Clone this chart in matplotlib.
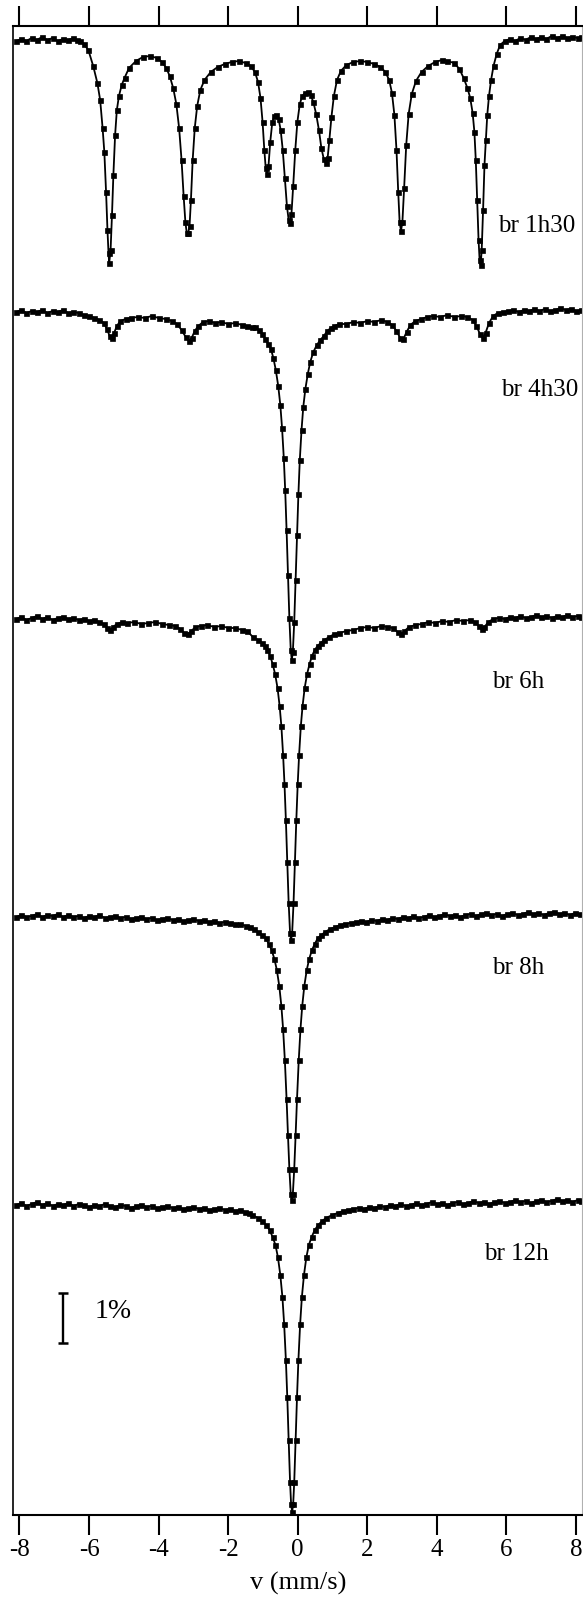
import matplotlib
matplotlib.use("Agg")
import matplotlib.pyplot as plt

# Mössbauer spectra of ball-milled samples (relative transmission, %)
labels = ["br 1h30", "br 4h30", "br 6h", "br 8h", "br 12h"]

vel_1h30 = [-8.1, -7.95, -7.8, -7.65, -7.5, -7.35, -7.2, -7.05, -6.9, -6.75, -6.6, -6.45, -6.35, -6.25, -6.15,
            -6.02, -5.88, -5.76, -5.68, -5.61, -5.56, -5.51, -5.47, -5.44, -5.42, -5.38, -5.34, -5.30, -5.25,
            -5.20, -5.14, -5.06, -4.98, -4.85, -4.65, -4.45, -4.25, -4.05, -3.9, -3.78, -3.68, -3.58, -3.49,
            -3.41, -3.34, -3.28, -3.23, -3.19, -3.15, -3.11, -3.07, -3.02, -2.96, -2.89, -2.8, -2.68, -2.5,
            -2.3, -2.1, -1.9, -1.7, -1.5, -1.35, -1.23, -1.14, -1.07, -1.01, -0.96, -0.92, -0.88, -0.84, -0.79,
            -0.73, -0.67, -0.61, -0.55, -0.49, -0.43, -0.37, -0.31, -0.26, -0.22, -0.18, -0.13, -0.07, -0.01,
            0.06, 0.13, 0.21, 0.29, 0.37, 0.45, 0.53, 0.61, 0.68, 0.75, 0.81, 0.86, 0.91, 0.97, 1.04, 1.13,
            1.24, 1.4, 1.6, 1.8, 2.0, 2.2, 2.38, 2.52, 2.63, 2.71, 2.78, 2.84, 2.89, 2.93, 2.97, 3.01, 3.06,
            3.12, 3.19, 3.28, 3.4, 3.56, 3.75, 3.95, 4.15, 4.3, 4.5, 4.65, 4.77, 4.88, 4.96, 5.03, 5.08, 5.12,
            5.16, 5.20, 5.23, 5.26, 5.29, 5.33, 5.37, 5.41, 5.45, 5.50, 5.56, 5.63, 5.72, 5.82, 5.95, 6.1,
            6.25, 6.4, 6.55, 6.7, 6.85, 7.0, 7.15, 7.3, 7.45, 7.6, 7.75, 7.9, 8.05, 8.15]
trans_1h30 = [99.98, 100.02, 99.98, 100.04, 100.00, 100.06, 100.00, 100.04, 99.98, 100.02, 100.00, 100.04,
              100.00, 99.98, 99.92, 99.80, 99.48, 99.14, 98.80, 98.24, 97.76, 96.96, 96.20, 95.74, 95.54,
              95.80, 96.50, 97.30, 98.10, 98.60, 98.88, 99.10, 99.24, 99.44, 99.58, 99.66, 99.68, 99.64,
              99.56, 99.44, 99.28, 99.04, 98.72, 98.24, 97.60, 96.88, 96.36, 96.14, 96.14, 96.28, 96.80,
              97.60, 98.24, 98.68, 99.00, 99.20, 99.36, 99.46, 99.52, 99.56, 99.58, 99.54, 99.48, 99.36,
              99.16, 98.84, 98.36, 97.80, 97.44, 97.32, 97.48, 97.96, 98.36, 98.48, 98.50, 98.42, 98.20,
              97.80, 97.24, 96.68, 96.40, 96.34, 96.52, 97.08, 97.80, 98.36, 98.72, 98.88, 98.94, 98.96,
              98.90, 98.76, 98.52, 98.20, 97.84, 97.62, 97.54, 97.64, 98.00, 98.46, 98.88, 99.20, 99.38,
              99.50, 99.56, 99.58, 99.56, 99.52, 99.46, 99.36, 99.20, 98.94, 98.50, 97.80, 96.96, 96.36,
              96.18, 96.36, 97.04, 97.90, 98.52, 98.92, 99.18, 99.36, 99.48, 99.56, 99.60, 99.58, 99.54,
              99.42, 99.24, 99.04, 98.84, 98.54, 98.16, 97.60, 96.80, 96.00, 95.60, 95.50, 95.80, 96.60,
              97.50, 98.00, 98.50, 98.88, 99.20, 99.48, 99.72, 99.90, 99.98, 100.02, 99.98, 100.04, 100.00,
              100.06, 100.02, 100.06, 100.02, 100.08, 100.04, 100.08, 100.04, 100.06, 100.04, 100.06]

vel_4h30 = [-8.1, -7.95, -7.8, -7.65, -7.5, -7.35, -7.2, -7.05, -6.9, -6.75, -6.6, -6.45, -6.3, -6.15, -6.0,
            -5.85, -5.7, -5.58, -5.48, -5.41, -5.35, -5.28, -5.2, -5.1, -4.95, -4.8, -4.6, -4.4, -4.2, -4.0,
            -3.8, -3.62, -3.47, -3.34, -3.22, -3.13, -3.05, -2.96, -2.86, -2.72, -2.55, -2.38, -2.2, -2.0,
            -1.8, -1.6, -1.45, -1.32, -1.22, -1.12, -1.02, -0.93, -0.85, -0.77, -0.70, -0.63, -0.56, -0.50,
            -0.45, -0.40, -0.36, -0.32, -0.28, -0.24, -0.20, -0.17, -0.14, -0.10, -0.06, -0.02, 0.02, 0.06,
            0.11, 0.16, 0.22, 0.29, 0.36, 0.45, 0.55, 0.65, 0.75, 0.85, 0.95, 1.05, 1.2, 1.4, 1.6, 1.8, 2.0,
            2.2, 2.4, 2.57, 2.72, 2.84, 2.95, 3.04, 3.13, 3.24, 3.38, 3.55, 3.72, 3.9, 4.1, 4.3, 4.5, 4.7,
            4.88, 5.03, 5.14, 5.24, 5.32, 5.40, 5.5, 5.62, 5.75, 5.9, 6.05, 6.2, 6.35, 6.5, 6.65, 6.8, 6.95,
            7.1, 7.25, 7.4, 7.55, 7.7, 7.85, 8.0, 8.15]
trans_4h30 = [99.98, 100.02, 99.96, 100.00, 99.98, 100.02, 99.96, 100.00, 99.98, 100.02, 99.96, 99.98, 99.96,
              99.92, 99.90, 99.86, 99.82, 99.76, 99.64, 99.50, 99.46, 99.56, 99.70, 99.80, 99.84, 99.86,
              99.88, 99.86, 99.90, 99.86, 99.84, 99.80, 99.74, 99.62, 99.48, 99.40, 99.46, 99.60, 99.70,
              99.78, 99.80, 99.76, 99.78, 99.74, 99.76, 99.72, 99.70, 99.68, 99.68, 99.62, 99.54, 99.44,
              99.34, 99.24, 99.06, 98.82, 98.50, 98.12, 97.66, 97.06, 96.42, 95.62, 94.72, 93.86, 93.22,
              93.02, 93.18, 93.78, 94.62, 95.52, 96.34, 97.02, 97.62, 98.08, 98.44, 98.74, 98.98, 99.18,
              99.32, 99.42, 99.50, 99.60, 99.66, 99.70, 99.74, 99.74, 99.78, 99.76, 99.80, 99.78, 99.82,
              99.78, 99.72, 99.60, 99.46, 99.44, 99.58, 99.72, 99.80, 99.84, 99.88, 99.90, 99.88, 99.92,
              99.88, 99.90, 99.88, 99.82, 99.70, 99.54, 99.46, 99.56, 99.76, 99.90, 99.96, 99.98, 100.00,
              100.02, 99.98, 100.02, 100.00, 100.04, 100.00, 100.04, 100.00, 100.02, 100.06, 100.02, 100.04,
              100.00, 100.02]

vel_6h = [-8.1, -7.95, -7.8, -7.65, -7.5, -7.35, -7.2, -7.05, -6.9, -6.75, -6.6, -6.45, -6.3, -6.15, -6.0,
          -5.85, -5.7, -5.58, -5.47, -5.39, -5.31, -5.2, -5.05, -4.9, -4.7, -4.5, -4.3, -4.1, -3.9, -3.7,
          -3.52, -3.38, -3.26, -3.16, -3.06, -2.94, -2.78, -2.6, -2.4, -2.2, -2.0, -1.8, -1.6, -1.45, -1.29,
          -1.14, -1.04, -0.95, -0.87, -0.79, -0.72, -0.65, -0.58, -0.52, -0.47, -0.42, -0.38, -0.34, -0.30,
          -0.26, -0.22, -0.19, -0.16, -0.12, -0.08, -0.04, 0.00, 0.04, 0.09, 0.14, 0.20, 0.27, 0.34, 0.41,
          0.49, 0.57, 0.66, 0.76, 0.91, 1.05, 1.2, 1.4, 1.6, 1.8, 2.0, 2.2, 2.4, 2.58, 2.74, 2.87, 2.97,
          3.07, 3.2, 3.38, 3.56, 3.75, 3.95, 4.15, 4.35, 4.55, 4.75, 4.95, 5.1, 5.2, 5.29, 5.37, 5.48, 5.62,
          5.78, 5.95, 6.1, 6.25, 6.4, 6.55, 6.7, 6.85, 7.0, 7.15, 7.3, 7.45, 7.6, 7.75, 7.9, 8.05, 8.15]
trans_6h = [99.98, 100.02, 99.96, 100.00, 100.04, 99.98, 100.02, 99.96, 100.00, 100.02, 99.98, 100.00, 99.96,
            99.98, 99.94, 99.96, 99.92, 99.88, 99.80, 99.76, 99.82, 99.88, 99.92, 99.90, 99.92, 99.88, 99.90,
            99.92, 99.88, 99.86, 99.84, 99.78, 99.70, 99.68, 99.74, 99.82, 99.84, 99.86, 99.82, 99.84, 99.80,
            99.80, 99.76, 99.74, 99.62, 99.56, 99.50, 99.44, 99.36, 99.24, 99.08, 98.88, 98.60, 98.24, 97.84,
            97.26, 96.68, 95.96, 95.12, 94.30, 93.70, 93.56, 93.70, 94.30, 95.12, 95.96, 96.68, 97.26, 97.84,
            98.24, 98.60, 98.88, 99.08, 99.24, 99.36, 99.44, 99.50, 99.56, 99.62, 99.68, 99.70, 99.74, 99.76,
            99.80, 99.82, 99.80, 99.84, 99.82, 99.80, 99.72, 99.68, 99.74, 99.82, 99.86, 99.88, 99.92, 99.90,
            99.94, 99.92, 99.96, 99.94, 99.96, 99.92, 99.84, 99.78, 99.82, 99.92, 99.98, 100.00, 99.98,
            100.02, 100.00, 100.04, 100.00, 100.02, 100.06, 100.02, 100.04, 100.00, 100.04, 100.02, 100.06,
            100.02, 100.04, 100.02]

vel_8h = [-8.1, -7.95, -7.8, -7.65, -7.5, -7.35, -7.2, -7.05, -6.9, -6.75, -6.6, -6.45, -6.3, -6.15, -6.0,
          -5.85, -5.7, -5.55, -5.4, -5.25, -5.1, -4.95, -4.8, -4.65, -4.5, -4.35, -4.2, -4.05, -3.9, -3.75,
          -3.6, -3.45, -3.3, -3.15, -3.0, -2.85, -2.7, -2.55, -2.4, -2.25, -2.1, -1.95, -1.8, -1.65, -1.5,
          -1.38, -1.27, -1.13, -1.02, -0.92, -0.83, -0.75, -0.67, -0.60, -0.53, -0.47, -0.42, -0.37, -0.32,
          -0.28, -0.24, -0.20, -0.17, -0.14, -0.10, -0.06, -0.02, 0.03, 0.08, 0.13, 0.19, 0.26, 0.33, 0.41,
          0.49, 0.58, 0.68, 0.79, 0.93, 1.08, 1.22, 1.37, 1.52, 1.67, 1.82, 1.97, 2.12, 2.27, 2.42, 2.57,
          2.72, 2.87, 3.02, 3.17, 3.32, 3.47, 3.62, 3.77, 3.92, 4.07, 4.22, 4.37, 4.52, 4.67, 4.82, 4.97,
          5.12, 5.27, 5.42, 5.57, 5.72, 5.87, 6.02, 6.17, 6.32, 6.47, 6.62, 6.77, 6.92, 7.07, 7.22, 7.37,
          7.52, 7.67, 7.82, 7.97, 8.12]
trans_8h = [99.98, 100.02, 99.98, 100.00, 100.04, 99.98, 100.02, 100.00, 100.04, 99.98, 100.02, 99.98, 100.00,
            99.96, 100.00, 99.98, 100.02, 99.96, 99.98, 100.00, 99.96, 99.98, 99.94, 99.96, 99.98, 99.94,
            99.96, 99.92, 99.94, 99.96, 99.92, 99.94, 99.90, 99.92, 99.94, 99.90, 99.92, 99.88, 99.90, 99.86,
            99.88, 99.86, 99.84, 99.84, 99.80, 99.78, 99.74, 99.68, 99.62, 99.56, 99.44, 99.32, 99.14, 98.92,
            98.60, 98.20, 97.74, 97.12, 96.34, 95.62, 94.94, 94.44, 94.32, 94.44, 94.94, 95.62, 96.34, 97.12,
            97.74, 98.20, 98.60, 98.92, 99.14, 99.32, 99.44, 99.56, 99.62, 99.68, 99.74, 99.78, 99.82, 99.84,
            99.86, 99.88, 99.90, 99.88, 99.92, 99.90, 99.94, 99.92, 99.96, 99.94, 99.98, 99.96, 100.00, 99.96,
            99.98, 100.02, 99.98, 100.00, 100.04, 100.00, 100.02, 99.98, 100.02, 100.04, 100.00, 100.04,
            100.06, 100.02, 100.04, 100.00, 100.04, 100.06, 100.02, 100.04, 100.08, 100.04, 100.06, 100.02,
            100.06, 100.08, 100.04, 100.06, 100.02, 100.06, 100.04]

vel_12h = [-8.1, -7.95, -7.8, -7.65, -7.5, -7.35, -7.2, -7.05, -6.9, -6.75, -6.6, -6.45, -6.3, -6.15, -6.0,
           -5.85, -5.7, -5.55, -5.4, -5.25, -5.1, -4.95, -4.8, -4.65, -4.5, -4.35, -4.2, -4.05, -3.9, -3.75,
           -3.6, -3.45, -3.3, -3.15, -3.0, -2.85, -2.7, -2.55, -2.4, -2.25, -2.1, -1.95, -1.8, -1.65, -1.52,
           -1.4, -1.31, -1.14, -1.02, -0.91, -0.81, -0.72, -0.64, -0.57, -0.50, -0.44, -0.39, -0.34, -0.30,
           -0.26, -0.22, -0.19, -0.16, -0.13, -0.10, -0.06, -0.02, 0.02, 0.07, 0.12, 0.18, 0.25, 0.32, 0.40,
           0.49, 0.59, 0.70, 0.82, 0.99, 1.15, 1.3, 1.45, 1.6, 1.75, 1.9, 2.05, 2.2, 2.35, 2.5, 2.65, 2.8,
           2.95, 3.1, 3.25, 3.4, 3.55, 3.7, 3.85, 4.0, 4.15, 4.3, 4.45, 4.6, 4.75, 4.9, 5.05, 5.2, 5.35, 5.5,
           5.65, 5.8, 5.95, 6.1, 6.25, 6.4, 6.55, 6.7, 6.85, 7.0, 7.15, 7.3, 7.45, 7.6, 7.75, 7.9, 8.05, 8.15]
trans_12h = [99.98, 100.02, 99.96, 100.00, 100.04, 99.98, 100.02, 99.96, 100.00, 99.98, 100.02, 99.96, 100.00,
             99.98, 99.94, 99.98, 99.96, 100.00, 99.96, 99.94, 99.98, 99.96, 99.92, 99.96, 99.98, 99.94, 99.96,
             99.92, 99.94, 99.96, 99.92, 99.94, 99.90, 99.92, 99.94, 99.90, 99.92, 99.88, 99.90, 99.92, 99.88,
             99.90, 99.86, 99.88, 99.84, 99.82, 99.78, 99.72, 99.66, 99.58, 99.48, 99.34, 99.18, 98.94, 98.58,
             98.14, 97.60, 96.88, 96.14, 95.28, 94.44, 94.00, 93.84, 94.00, 94.44, 95.28, 96.14, 96.88, 97.60,
             98.14, 98.58, 98.94, 99.18, 99.34, 99.48, 99.58, 99.66, 99.72, 99.78, 99.82, 99.86, 99.88, 99.90,
             99.92, 99.90, 99.94, 99.92, 99.96, 99.94, 99.98, 99.96, 100.00, 99.96, 99.98, 100.02, 99.98,
             100.00, 100.04, 100.00, 100.02, 99.98, 100.02, 100.04, 100.00, 100.02, 100.06, 100.02, 100.04,
             100.00, 100.04, 100.06, 100.02, 100.04, 100.08, 100.04, 100.06, 100.02, 100.06, 100.08, 100.04,
             100.06, 100.10, 100.06, 100.08, 100.04, 100.08, 100.06]

velocities = [vel_1h30, vel_4h30, vel_6h, vel_8h, vel_12h]
transmissions = [trans_1h30, trans_4h30, trans_6h, trans_8h, trans_12h]

# vertical stacking of the spectra (in % units)
offsets = [-0.28, -5.70, -11.84, -17.80, -23.56]
label_pos = [(5.76, -4.0), (5.85, -7.28), (5.59, -13.12), (5.59, -18.84), (5.36, -24.56)]

plt.rcParams["font.family"] = ["Liberation Serif", "DejaVu Serif"]

fig = plt.figure(figsize=(5.83, 16.09), dpi=100)
ax = fig.add_axes([13 / 583, 1 - 1515 / 1609, 569 / 583, 1489 / 1609])

for v, t, off in zip(velocities, transmissions, offsets):
    y = [off + (ti - 100.0) for ti in t]
    ax.plot(v, y, color="black", lw=1.3, marker="s", ms=3.6, mec="black", mfc="black", mew=0.5)

for lab, (lx, ly) in zip(labels, label_pos):
    ax.text(lx, ly, lab, fontsize=18, ha="left", va="center")

# 1% scale bar
ax.errorbar([-6.75], [-25.84], yerr=[0.5], color="black", lw=1.7, capsize=3.4, capthick=1.8)
ax.text(-5.83, -25.72, "1%", fontsize=20, ha="left", va="center")

ax.set_xlim(-8.186, 8.174)
ax.set_ylim(-29.78, 0)
ax.set_xticks([-8, -6, -4, -2, 0, 2, 4, 6, 8])
ax.set_xticklabels(["-8", "-6", "-4", "-2", "0", "2", "4", "6", "8"])
ax.set_yticks([])
ax.tick_params(axis="x", which="both", direction="out", length=14.5, width=1.5,
               top=True, bottom=True, labeltop=False, labelsize=18, pad=3)
for side in ["top", "bottom"]:
    ax.spines[side].set_linewidth(1.5)
ax.spines["left"].set_linewidth(1.2)
ax.spines["right"].set_linewidth(0.8)
ax.spines["right"].set_color("#b0b0b0")

fig.text(297.7 / 583, 1 - 1583 / 1609, "v (mm/s)", fontsize=19, ha="center", va="center")

fig.savefig("out.png", dpi=100)
